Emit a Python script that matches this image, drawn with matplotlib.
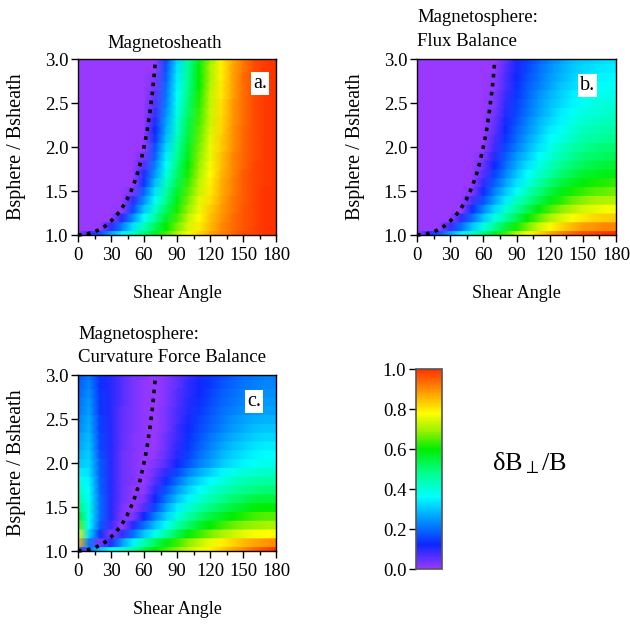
import numpy as np
import matplotlib.pyplot as plt
from matplotlib.colors import LinearSegmentedColormap, Normalize
from matplotlib.ticker import FormatStrFormatter

plt.rcParams['font.family'] = ['Liberation Serif', 'DejaVu Serif']
plt.rcParams['mathtext.fontset'] = 'custom'
plt.rcParams['mathtext.rm'] = 'Liberation Serif'
plt.rcParams['mathtext.it'] = 'Liberation Serif'

# ======================
# grid of the maps
# ======================
shear = [0, 10, 20, 30, 40, 50, 60, 70, 80, 90, 100, 110, 120, 130, 140, 150, 160, 170, 180]
ratio = [1.0, 1.1, 1.2, 1.3, 1.4, 1.5, 1.6, 1.7, 1.8, 1.9, 2.0,
         2.1, 2.2, 2.3, 2.4, 2.5, 2.6, 2.7, 2.8, 2.9, 3.0]

# a. magnetosheath  (one row per ratio, one column per shear angle)
sheath = [
    [0, .09, .17, .26, .34, .42, .50, .57, .64, .71, .77, .82, .87, .91, .94, .97, .98, 1.0, 1.0],
    [0, 0, 0, .09, .22, .33, .43, .52, .60, .67, .74, .80, .85, .90, .93, .96, .98, 1.0, 1.0],
    [0, 0, 0, 0, .10, .24, .36, .46, .56, .64, .72, .78, .84, .89, .93, .96, .98, 1.0, 1.0],
    [0, 0, 0, 0, .01, .16, .30, .41, .52, .61, .69, .76, .83, .88, .92, .96, .98, 1.0, 1.0],
    [0, 0, 0, 0, 0, .09, .24, .37, .48, .58, .67, .75, .81, .87, .92, .95, .98, 1.0, 1.0],
    [0, 0, 0, 0, 0, .03, .19, .33, .45, .56, .65, .73, .80, .86, .91, .95, .98, 1.0, 1.0],
    [0, 0, 0, 0, 0, 0, .14, .29, .42, .53, .63, .72, .79, .86, .91, .95, .98, .99, 1.0],
    [0, 0, 0, 0, 0, 0, .10, .25, .39, .51, .61, .70, .78, .85, .90, .95, .98, .99, 1.0],
    [0, 0, 0, 0, 0, 0, .06, .22, .36, .49, .60, .69, .77, .84, .90, .94, .98, .99, 1.0],
    [0, 0, 0, 0, 0, 0, .03, .19, .34, .47, .58, .68, .76, .84, .90, .94, .97, .99, 1.0],
    [0, 0, 0, 0, 0, 0, 0, .17, .32, .45, .57, .67, .76, .83, .89, .94, .97, .99, 1.0],
    [0, 0, 0, 0, 0, 0, 0, .14, .29, .43, .55, .66, .75, .83, .89, .94, .97, .99, 1.0],
    [0, 0, 0, 0, 0, 0, 0, .12, .27, .41, .54, .65, .74, .82, .89, .94, .97, .99, 1.0],
    [0, 0, 0, 0, 0, 0, 0, .10, .26, .40, .53, .64, .73, .82, .88, .93, .97, .99, 1.0],
    [0, 0, 0, 0, 0, 0, 0, .08, .24, .39, .51, .63, .73, .81, .88, .93, .97, .99, 1.0],
    [0, 0, 0, 0, 0, 0, 0, .06, .22, .37, .50, .62, .72, .81, .88, .93, .97, .99, 1.0],
    [0, 0, 0, 0, 0, 0, 0, .05, .21, .36, .49, .61, .72, .80, .87, .93, .97, .99, 1.0],
    [0, 0, 0, 0, 0, 0, 0, .03, .20, .35, .48, .60, .71, .80, .87, .93, .97, .99, 1.0],
    [0, 0, 0, 0, 0, 0, 0, .02, .18, .34, .47, .60, .70, .79, .87, .93, .97, .99, 1.0],
    [0, 0, 0, 0, 0, 0, 0, 0, .17, .33, .47, .59, .70, .79, .87, .92, .97, .99, 1.0],
    [0, 0, 0, 0, 0, 0, 0, 0, .16, .32, .46, .58, .69, .79, .86, .92, .97, .99, 1.0],
]

# b. magnetosphere, flux balance
flux = [
    [0, .09, .17, .26, .34, .42, .50, .57, .64, .71, .77, .82, .87, .91, .94, .97, .98, 1.0, 1.0],
    [0, 0, 0, .08, .20, .30, .39, .47, .54, .61, .67, .73, .77, .82, .85, .88, .89, .91, .91],
    [0, 0, 0, 0, .09, .20, .30, .39, .46, .53, .60, .65, .70, .74, .77, .80, .82, .83, .83],
    [0, 0, 0, 0, 0, .13, .23, .32, .40, .47, .53, .59, .64, .68, .71, .74, .75, .77, .77],
    [0, 0, 0, 0, 0, .07, .17, .26, .34, .42, .48, .53, .58, .62, .66, .68, .70, .71, .71],
    [0, 0, 0, 0, 0, .02, .13, .22, .30, .37, .43, .49, .54, .58, .61, .63, .65, .66, .67],
    [0, 0, 0, 0, 0, 0, .09, .18, .26, .33, .39, .45, .50, .54, .57, .59, .61, .62, .63],
    [0, 0, 0, 0, 0, 0, .06, .15, .23, .30, .36, .41, .46, .50, .53, .56, .57, .58, .59],
    [0, 0, 0, 0, 0, 0, .04, .12, .20, .27, .33, .38, .43, .47, .50, .52, .54, .55, .56],
    [0, 0, 0, 0, 0, 0, .02, .10, .18, .25, .30, .36, .40, .44, .47, .50, .51, .52, .53],
    [0, 0, 0, 0, 0, 0, 0, .08, .16, .22, .28, .33, .38, .42, .45, .47, .49, .50, .50],
    [0, 0, 0, 0, 0, 0, 0, .07, .14, .20, .26, .31, .36, .39, .42, .45, .46, .47, .48],
    [0, 0, 0, 0, 0, 0, 0, .05, .12, .19, .24, .29, .34, .37, .40, .43, .44, .45, .45],
    [0, 0, 0, 0, 0, 0, 0, .04, .11, .17, .23, .28, .32, .35, .38, .41, .42, .43, .43],
    [0, 0, 0, 0, 0, 0, 0, .03, .10, .16, .21, .26, .30, .34, .37, .39, .40, .41, .42],
    [0, 0, 0, 0, 0, 0, 0, .02, .09, .15, .20, .25, .29, .32, .35, .37, .39, .40, .40],
    [0, 0, 0, 0, 0, 0, 0, .02, .08, .14, .19, .24, .28, .31, .34, .36, .37, .38, .38],
    [0, 0, 0, 0, 0, 0, 0, .01, .07, .13, .18, .22, .26, .30, .32, .34, .36, .37, .37],
    [0, 0, 0, 0, 0, 0, 0, .01, .07, .12, .17, .21, .25, .28, .31, .33, .35, .35, .36],
    [0, 0, 0, 0, 0, 0, 0, 0, .06, .11, .16, .20, .24, .27, .30, .32, .33, .34, .34],
    [0, 0, 0, 0, 0, 0, 0, 0, .05, .11, .15, .19, .23, .26, .29, .31, .32, .33, .33],
]

# c. magnetosphere, curvature force balance
curv = [
    [.05, .20, .30, .36, .40, .46, .54, .60, .64, .68, .72, .76, .79, .83, .87, .90, .94, .97, 1.0],
    [.85, .22, .03, .10, .25, .35, .44, .52, .58, .63, .68, .72, .76, .79, .82, .85, .87, .89, .90],
    [.75, .32, .14, .02, .08, .20, .30, .38, .46, .53, .59, .63, .67, .70, .73, .75, .77, .78, .78],
    [.65, .36, .18, .08, .00, .10, .20, .29, .37, .45, .51, .56, .60, .63, .66, .68, .69, .70, .70],
    [.57, .37, .20, .10, .02, .02, .12, .22, .31, .39, .45, .50, .54, .57, .60, .62, .64, .65, .65],
    [.50, .38, .20, .10, .03, .00, .06, .16, .26, .34, .40, .45, .49, .52, .55, .57, .59, .60, .60],
    [.46, .37, .20, .10, .04, .01, .03, .12, .21, .29, .35, .40, .44, .47, .50, .52, .54, .55, .55],
    [.42, .36, .19, .10, .04, .01, .01, .09, .17, .25, .31, .36, .40, .43, .46, .48, .49, .50, .50],
    [.38, .35, .19, .10, .04, .02, .00, .06, .13, .20, .27, .32, .36, .39, .42, .44, .45, .46, .46],
    [.34, .33, .18, .10, .04, .02, .00, .04, .09, .16, .22, .27, .31, .35, .38, .40, .41, .42, .42],
    [.30, .32, .18, .10, .04, .02, .00, .02, .06, .12, .17, .22, .26, .30, .33, .35, .37, .38, .38],
    [.28, .31, .17, .10, .04, .02, .00, .01, .05, .10, .15, .20, .24, .28, .31, .33, .35, .36, .36],
    [.26, .30, .16, .10, .05, .02, .01, .00, .04, .09, .14, .18, .22, .26, .29, .31, .33, .34, .34],
    [.25, .29, .16, .10, .05, .02, .01, .00, .04, .08, .13, .17, .21, .24, .27, .29, .31, .32, .32],
    [.23, .28, .15, .10, .05, .03, .01, .00, .03, .08, .12, .16, .19, .22, .25, .27, .29, .30, .30],
    [.22, .27, .15, .10, .05, .03, .01, .00, .03, .07, .11, .15, .18, .21, .24, .26, .27, .28, .28],
    [.21, .26, .14, .10, .05, .03, .01, .00, .03, .07, .10, .14, .17, .20, .22, .24, .25, .26, .26],
    [.20, .25, .14, .10, .06, .03, .01, .00, .02, .06, .10, .13, .16, .19, .21, .23, .24, .25, .25],
    [.19, .24, .14, .10, .06, .03, .01, .00, .02, .06, .09, .12, .15, .18, .20, .22, .23, .24, .24],
    [.18, .23, .13, .10, .06, .03, .01, .00, .02, .05, .09, .12, .14, .17, .19, .21, .22, .23, .23],
    [.17, .22, .13, .10, .06, .03, .02, .00, .02, .05, .08, .11, .14, .16, .18, .20, .21, .22, .22],
]

# dotted boundary curve
curve_ratio = [1.0, 1.01, 1.04, 1.1, 1.2, 1.3, 1.4, 1.5, 1.6, 1.7, 1.8,
               1.9, 2.0, 2.1, 2.2, 2.3, 2.4, 2.5, 2.6, 2.7, 2.8, 2.9, 3.0]
curve_shear = [0, 8.1, 15.9, 24.6, 33.6, 39.7, 44.4, 48.2, 51.3, 54.0, 56.3,
               58.2, 60.0, 61.6, 63.0, 64.2, 65.4, 66.4, 67.4, 68.3, 69.1, 69.8, 70.5]

# ======================
# colour table
# ======================
cmap = LinearSegmentedColormap.from_list('rainbow_igor', [
    (0.00, (0.60, 0.22, 1.00)),
    (0.12, (0.05, 0.15, 1.00)),
    (0.25, (0.00, 0.60, 1.00)),
    (0.36, (0.00, 1.00, 1.00)),
    (0.48, (0.00, 1.00, 0.55)),
    (0.60, (0.00, 0.93, 0.00)),
    (0.70, (0.65, 0.95, 0.00)),
    (0.78, (1.00, 1.00, 0.00)),
    (0.90, (1.00, 0.55, 0.00)),
    (1.00, (1.00, 0.20, 0.00)),
])

W, H = 630, 625
fig = plt.figure(figsize=(W / 100, H / 100), dpi=100)


def px_rect(left, top, right, bottom):
    return [left / W, 1 - bottom / H, (right - left) / W, (bottom - top) / H]


def draw_map(rect, grid, tag, tag_xy):
    ax = fig.add_axes(rect)
    for r, row in zip(ratio, grid):
        ax.pcolormesh(shear, [r - 0.05, r + 0.05], np.array([row, row]),
                      shading='gouraud', cmap=cmap, vmin=0, vmax=1,
                      antialiased=False, zorder=1)
    ax.plot(curve_shear, curve_ratio, color='black', lw=2.6,
            linestyle=(0, (1, 1.5)), dash_capstyle='butt', zorder=3,
            clip_on=False)
    ax.set_xlim(0, 180)
    ax.set_ylim(1, 3)
    ax.set_xticks([0, 30, 60, 90, 120, 150, 180])
    ax.set_xticks([15, 45, 75, 105, 135, 165], minor=True)
    ax.set_yticks([1.0, 1.5, 2.0, 2.5, 3.0])
    ax.yaxis.set_major_formatter(FormatStrFormatter('%.1f'))
    ax.tick_params(which='major', direction='out', length=5, width=1,
                   labelsize=13.5, pad=2)
    ax.tick_params(axis='x', which='major', pad=4)
    ax.tick_params(which='minor', direction='out', length=3, width=1)
    for s in ax.spines.values():
        s.set_linewidth(1)
    ax.text(tag_xy[0], tag_xy[1], tag, transform=ax.transAxes,
            ha='center', va='center', fontsize=14.5, zorder=4,
            bbox=dict(facecolor='white', edgecolor='none', pad=1.5))
    ax.text(0.5, -0.335, 'Shear Angle', transform=ax.transAxes,
            ha='center', va='center', fontsize=13)
    ax.text(-0.31, 0.5, 'Bsphere / Bsheath', transform=ax.transAxes,
            ha='center', va='center', rotation=90, fontsize=14.5)
    return ax


ax_a = draw_map(px_rect(78, 59, 276, 235), sheath, 'a.', (0.92, 0.86))
ax_b = draw_map(px_rect(417, 59, 616, 235), flux, 'b.', (0.855, 0.852))
ax_c = draw_map(px_rect(78, 375, 276, 551), curv, 'c.', (0.89, 0.852))

ax_a.text(0.44, 1.04, 'Magnetosheath', transform=ax_a.transAxes,
          ha='center', va='bottom', fontsize=13.5)
ax_b.text(0.0, 1.05, 'Magnetosphere:\nFlux Balance', transform=ax_b.transAxes,
          ha='left', va='bottom', fontsize=13.5, linespacing=1.55)
ax_c.text(0.0, 1.05, 'Magnetosphere:\nCurvature Force Balance',
          transform=ax_c.transAxes, ha='left', va='bottom', fontsize=13.5,
          linespacing=1.5)

# colour bar
cax = fig.add_axes(px_rect(416, 369, 442, 569))
sm = plt.cm.ScalarMappable(norm=Normalize(0, 1), cmap=cmap)
cb = fig.colorbar(sm, cax=cax)
cb.set_ticks([0.0, 0.2, 0.4, 0.6, 0.8, 1.0])
cb.ax.yaxis.set_major_formatter(FormatStrFormatter('%.1f'))
cb.ax.yaxis.set_ticks_position('left')
cb.ax.tick_params(direction='out', length=5, width=1, labelsize=13.5, pad=2)
cb.outline.set_linewidth(1.2)
cb.outline.set_edgecolor('#555555')
fig.text(529 / W, 1 - 463 / H, r'$\mathrm{\delta B_{\perp}/B}$',
         ha='center', va='center', fontsize=19)

fig.savefig('out.png', dpi=100)
